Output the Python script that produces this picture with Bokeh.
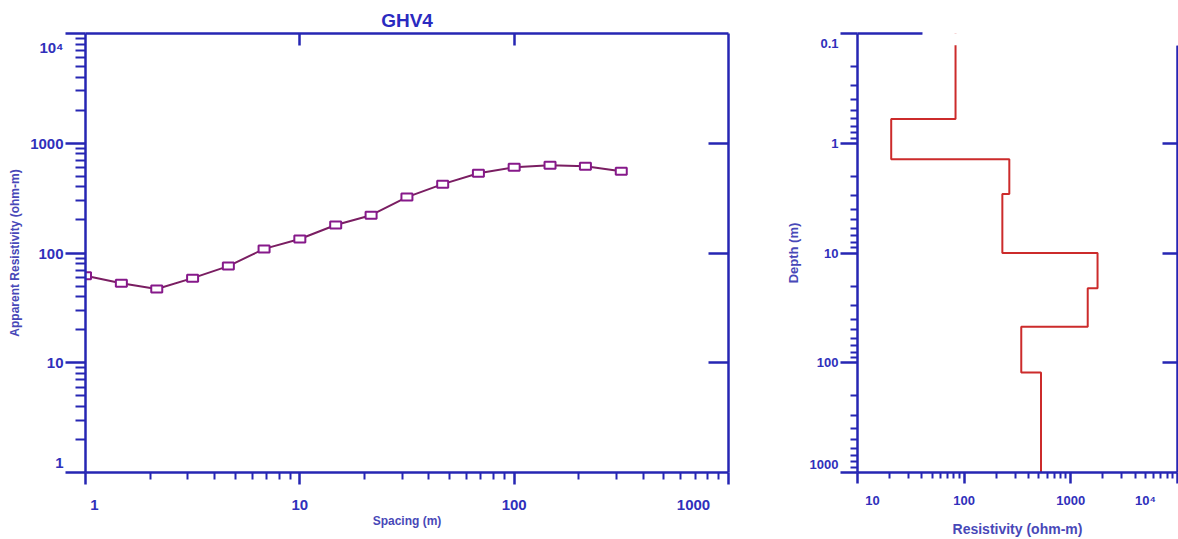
from bokeh.plotting import figure
from bokeh.models import (Range1d, LogAxis, FixedTicker, BoxAnnotation,
                          CustomJSTickFormatter)
from bokeh.layouts import row
from bokeh.embed import file_html
from bokeh.resources import INLINE

# ---- sounding GHV4: apparent resistivity against electrode spacing ----
spacing = [1.0, 1.47, 2.15, 3.16, 4.64, 6.81, 10.0, 14.7, 21.5, 31.6,
           46.4, 68.1, 100.0, 147.0, 215.0, 316.0]
app_res = [62, 53, 47, 59, 76, 109, 134, 180, 221, 323,
           424, 533, 605, 631, 617, 556]

# ---- interpreted layered model ----
layer_res = [83, 20.7, 265, 228, 1780, 1440, 343, 525]      # ohm-m
layer_bottom = [0.6, 1.4, 2.9, 10.0, 21.0, 47.0, 123.0]       # m (last layer is the half-space)
depth_top, depth_max = 0.1, 1000.0

# ticks and their labels
x1_ticks = [1, 10, 100, 1000]
x1_labels = ["1", "10", "100", "1000"]
y1_ticks = [1, 10, 100, 1000, 10000]
y1_labels = ["1", "10", "100", "1000", "10⁴"]
x2_ticks = [10, 100, 1000, 10000]
x2_labels = ["10", "100", "1000", "10⁴"]
y2_ticks = [0.1, 1, 10, 100, 1000]
y2_labels = ["0.1", "1", "10", "100", "1000"]

FONT = "Liberation Sans"
BLUE = "#2626b3"
TICK_TXT = "#3030bb"
AXLBL = "#4848b8"
PURPLE = "#86198a"
CURVE = "#7a1e62"
RED = "#cc2b2b"

# panel geometry (pixels)
W1, W2, H = 760, 418, 539
L1, R1, T1, B1 = 85, 32, 33, 66
L2, R2, T2, B2 = 97, 1, 33, 67
DEC_X1 = (W1 - L1 - R1) / 3.0     # px per decade, spacing axis
DEC_Y1 = (H - T1 - B1) / 4.0      # px per decade, apparent resistivity axis
DEC_X2 = (W2 - L2 - R2) / 3.0     # px per decade, resistivity axis
DEC_Y2 = (H - T2 - B2) / 4.0      # px per decade, depth axis


def minors(lo_exp, hi_exp):
    return [m * 10.0 ** e for e in range(lo_exp, hi_exp) for m in range(2, 10)]


def nudge(v, px, per_decade):
    """Shift a log-axis value by a number of pixels."""
    return v * 10.0 ** (px / per_decade)


def style_frame_axis(ax, ticks, minor, major_in=0, major_out=0, minor_out=0):
    """Axis that draws only the border line and its tick marks."""
    ax.ticker = FixedTicker(ticks=ticks, minor_ticks=minor)
    ax.axis_line_color = BLUE
    ax.axis_line_width = 2.5
    ax.major_tick_line_color = BLUE
    ax.major_tick_line_width = 2.5
    ax.minor_tick_line_color = BLUE
    ax.minor_tick_line_width = 2
    ax.major_tick_in = major_in
    ax.major_tick_out = major_out
    ax.minor_tick_in = 0
    ax.minor_tick_out = minor_out
    ax.major_label_standoff = 0
    ax.major_label_text_font_size = "1px"
    ax.major_label_text_alpha = 0


def label_axis(ticks, labels, size, standoff, title=None, title_size="12px", title_standoff=0):
    """Axis that carries only tick labels (and the axis title)."""
    ax = LogAxis(ticker=FixedTicker(ticks=ticks, minor_ticks=[]),
                 formatter=CustomJSTickFormatter(args=dict(labels=labels),
                                                 code="return labels[index];"))
    ax.axis_line_color = None
    ax.major_tick_line_color = None
    ax.minor_tick_line_color = None
    ax.major_tick_in = 0
    ax.major_tick_out = 0
    ax.minor_tick_in = 0
    ax.minor_tick_out = 0
    ax.major_label_standoff = standoff
    ax.major_label_text_font = FONT
    ax.major_label_text_font_style = "bold"
    ax.major_label_text_font_size = size
    ax.major_label_text_color = TICK_TXT
    if title:
        ax.axis_label = title
        ax.axis_label_text_font = FONT
        ax.axis_label_text_font_style = "bold"
        ax.axis_label_text_font_size = title_size
        ax.axis_label_text_color = AXLBL
        ax.axis_label_standoff = title_standoff
    return ax


# ================= left panel: sounding curve =================
p1 = figure(width=W1, height=H, x_axis_type="log", y_axis_type="log",
            x_range=Range1d(1, 1000), y_range=Range1d(1, 10000),
            output_backend="svg", toolbar_location=None,
            min_border_left=L1, min_border_right=R1, min_border_top=T1, min_border_bottom=B1)
p1.outline_line_color = None
p1.grid.visible = False
p1.background_fill_color = "white"
p1.border_fill_color = "white"

p1.title.text = "GHV4"
p1.title.align = "center"
p1.title.text_font = FONT
p1.title.text_font_style = "bold"
p1.title.text_font_size = "19px"
p1.title.text_color = "#2a2ac0"
p1.title.standoff = 6

style_frame_axis(p1.xaxis[0], x1_ticks, minors(0, 3), major_out=12, minor_out=7)
style_frame_axis(p1.yaxis[0], y1_ticks, minors(0, 4), major_out=20, minor_out=10)
top1 = LogAxis()
style_frame_axis(top1, [10, 100], [], major_in=12)
p1.add_layout(top1, "above")
right1 = LogAxis()
style_frame_axis(right1, [10, 100, 1000], [], major_in=20)
p1.add_layout(right1, "right")

# tick labels; the end labels sit slightly inside the frame
x1_pos = [nudge(x1_ticks[0], 9, DEC_X1)] + x1_ticks[1:-1] + [nudge(x1_ticks[-1], -35, DEC_X1)]
p1.add_layout(label_axis(x1_pos, x1_labels, "15px", 15,
                         title="Spacing (m)", title_size="12px", title_standoff=1), "below")
y1_pos = [nudge(y1_ticks[0], 10, DEC_Y1)] + y1_ticks[1:-1] + [nudge(y1_ticks[-1], -14, DEC_Y1)]
p1.add_layout(label_axis(y1_pos, y1_labels, "15px", 2,
                         title="Apparent Resistivity (ohm-m)", title_size="12px",
                         title_standoff=5), "left")

p1.line(spacing, app_res, line_color=CURVE, line_width=2)
p1.rect(spacing, app_res, width=11, height=7, width_units="screen", height_units="screen",
        fill_color="white", line_color=PURPLE, line_width=2)

# ================= right panel: layered model =================
p2 = figure(width=W2, height=H, x_axis_type="log", y_axis_type="log",
            x_range=Range1d(10, 10000), y_range=Range1d(depth_max, depth_top),
            output_backend="svg", toolbar_location=None,
            min_border_left=L2, min_border_right=R2, min_border_top=T2, min_border_bottom=B2)
p2.outline_line_color = None
p2.grid.visible = False
p2.background_fill_color = "white"
p2.border_fill_color = "white"

style_frame_axis(p2.xaxis[0], x2_ticks, minors(1, 4), major_out=11, minor_out=6)
style_frame_axis(p2.yaxis[0], y2_ticks, minors(-1, 3), major_out=17, minor_out=7)
top2 = LogAxis(bounds=(10, 41))
style_frame_axis(top2, [10], [])
p2.add_layout(top2, "above")
right2 = LogAxis(bounds=(0.128, 1000))
style_frame_axis(right2, [1, 10, 100], [], major_in=15)
p2.add_layout(right2, "right")

x2_pos = [nudge(x2_ticks[0], 15, DEC_X2)] + x2_ticks[1:-1] + [nudge(x2_ticks[-1], -32, DEC_X2)]
p2.add_layout(label_axis(x2_pos, x2_labels, "13px", 9,
                         title="Resistivity (ohm-m)", title_size="14px", title_standoff=10), "below")
# depth axis is reversed: a positive nudge moves towards the top
y2_pos = [nudge(y2_ticks[0], 10, DEC_Y2)] + y2_ticks[1:-1] + [nudge(y2_ticks[-1], -8, DEC_Y2)]
p2.add_layout(label_axis(y2_pos, y2_labels, "13px", 2,
                         title="Depth (m)", title_size="13px", title_standoff=6), "left")

# step profile built from the layer table
step_x, step_y = [], []
tops = [depth_top] + layer_bottom
bottoms = layer_bottom + [depth_max]
for rho, t, b in zip(layer_res, tops, bottoms):
    step_x += [rho, rho]
    step_y += [t, b]
p2.line(step_x, step_y, line_color=RED, line_width=2)

# blank strip along the upper edge
p2.add_layout(BoxAnnotation(left=41, right=10000, top=depth_top, bottom=0.128,
                            fill_color="white", fill_alpha=1.0, line_color=None))

layout = row(p1, p2)
open("out.html", "w").write(file_html(layout, INLINE))
